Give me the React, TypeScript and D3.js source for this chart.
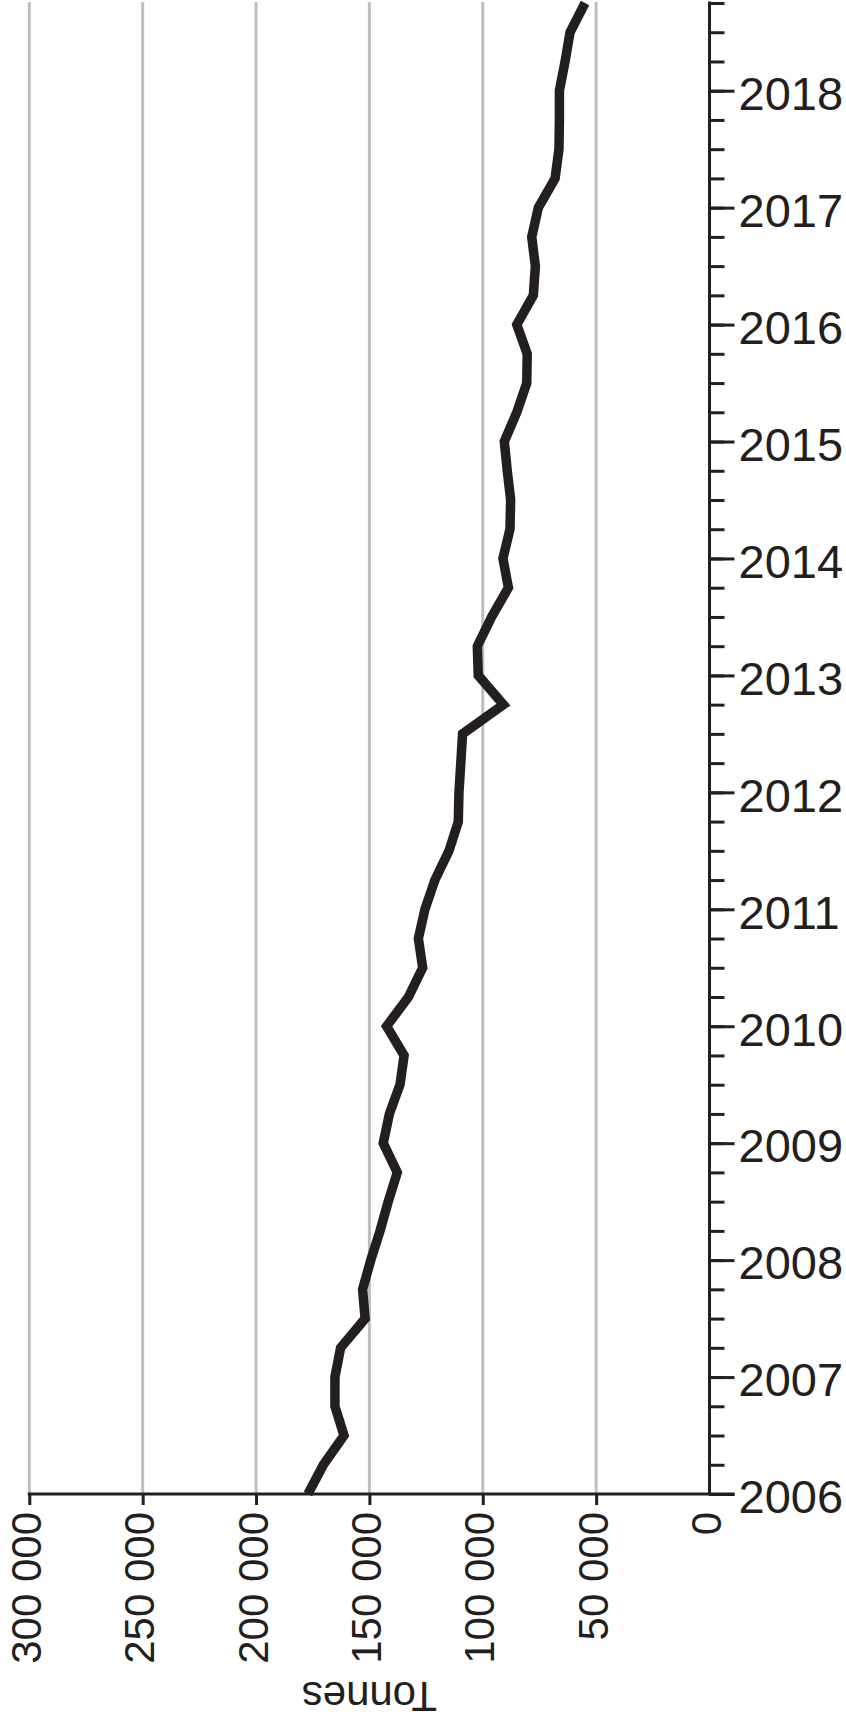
import React, { useEffect, useRef } from 'react';
import * as d3 from 'd3';

// quarterly observations (decimal year) and tonnes
const periods: number[] = [
  2006.0, 2006.25, 2006.5, 2006.75, 2007.0, 2007.25, 2007.5, 2007.75,
  2008.0, 2008.25, 2008.5, 2008.75, 2009.0, 2009.25, 2009.5, 2009.75,
  2010.0, 2010.25, 2010.5, 2010.75, 2011.0, 2011.25, 2011.5, 2011.75,
  2012.0, 2012.25, 2012.5, 2012.75, 2013.0, 2013.25, 2013.5, 2013.75,
  2014.0, 2014.25, 2014.5, 2014.75, 2015.0, 2015.25, 2015.5, 2015.75,
  2016.0, 2016.25, 2016.5, 2016.75, 2017.0, 2017.25, 2017.5, 2017.75,
  2018.0, 2018.25, 2018.5, 2018.75,
];

const tonnes: number[] = [
  177100, 170300, 161200, 165200, 165200, 162700, 151900, 153000,
  149400, 145300, 141700, 137700, 143900, 141200, 136500, 134700,
  142400, 132800, 126500, 128400, 125500, 121100, 114900, 110800,
  110500, 109700, 108900, 90900, 102000, 102400, 96100, 88700,
  91100, 88000, 87700, 89200, 90500, 85000, 80600, 80400,
  85000, 77700, 76800, 78400, 75500, 68100, 66400, 66200,
  66200, 63700, 61500, 54900,
];

const yearTicks: number[] = [2006, 2007, 2008, 2009, 2010, 2011, 2012, 2013, 2014, 2015, 2016, 2017, 2018];
const quarterTicks: number[] = periods;
const valueTicks: number[] = [0, 50000, 100000, 150000, 200000, 250000, 300000];

const FONT = '"Liberation Sans", Arial, Helvetica, sans-serif';
const INK = '#231f20';

const App: React.FC = () => {
  const svgRef = useRef<SVGSVGElement>(null);

  useEffect(() => {
    document.body.style.margin = '0';
    if (!svgRef.current) return;
    const svg = d3.select(svgRef.current);
    svg.selectAll('*').remove();

    // rotated layout: value runs right-to-left along the bottom, time runs upward on the right
    const xScale = d3.scaleLinear().domain([0, 300000]).range([709.5, 29.3]);
    const yScale = d3.scaleLinear().domain([2006, 2018.75]).range([1494, 3]);
    const baseY = yScale(2006);
    const axisX = xScale(0);

    // gridlines
    svg.append('g')
      .selectAll('line')
      .data(valueTicks.filter(v => v > 0))
      .enter()
      .append('line')
      .attr('x1', d => xScale(d))
      .attr('x2', d => xScale(d))
      .attr('y1', baseY)
      .attr('y2', 2)
      .attr('stroke', '#bcbec0')
      .attr('stroke-width', 3);

    // data line
    const line = d3.line<number>()
      .x((_, i) => xScale(tonnes[i]))
      .y(d => yScale(d));

    svg.append('path')
      .datum(periods)
      .attr('fill', 'none')
      .attr('stroke', INK)
      .attr('stroke-width', 9.5)
      .attr('stroke-linejoin', 'miter')
      .attr('d', line);

    // value axis (bottom)
    const xAxis = svg.append('g')
      .attr('transform', `translate(0,${baseY})`)
      .call(d3.axisBottom(xScale).tickValues(valueTicks).tickSize(11).tickSizeOuter(0)
        .tickFormat(d => d3.format(',')(d as number).replace(/,/g, ' ')));
    xAxis.select('.domain').remove();
    xAxis.selectAll('.tick line')
      .attr('stroke', INK)
      .attr('stroke-width', 3)
      .attr('y2', (d: any) => (d === 0 ? 0 : 11));
    xAxis.selectAll('.tick text')
      .attr('x', 0)
      .attr('y', 0)
      .attr('dy', 0)
      .attr('transform', 'translate(11,18) rotate(-90)')
      .attr('text-anchor', 'end')
      .attr('fill', INK)
      .style('font-family', FONT)
      .style('font-size', '42px');
    svg.append('line')
      .attr('x1', xScale(300000) - 1.5)
      .attr('x2', axisX + 25)
      .attr('y1', baseY)
      .attr('y2', baseY)
      .attr('stroke', INK)
      .attr('stroke-width', 3);

    // time axis (right): quarter ticks, then year ticks with labels
    const minor = svg.append('g')
      .attr('transform', `translate(${axisX},0)`)
      .call(d3.axisRight(yScale).tickValues(quarterTicks).tickSize(15).tickSizeOuter(0).tickFormat(() => ''));
    minor.selectAll('.tick line').attr('stroke', INK).attr('stroke-width', 3);
    minor.select('.domain').remove();

    const major = svg.append('g')
      .attr('transform', `translate(${axisX},0)`)
      .call(d3.axisRight(yScale).tickValues(yearTicks).tickSize(25).tickPadding(4).tickSizeOuter(0)
        .tickFormat(d => String(d)));
    major.select('.domain').remove();
    major.selectAll('.tick line').attr('stroke', INK).attr('stroke-width', 3);
    major.selectAll('.tick text')
      .attr('dy', '0.4em')
      .attr('fill', INK)
      .style('font-family', FONT)
      .style('font-size', '47px');

    svg.append('line')
      .attr('x1', axisX)
      .attr('x2', axisX)
      .attr('y1', yScale(2018.75) - 1.5)
      .attr('y2', baseY + 1.5)
      .attr('stroke', INK)
      .attr('stroke-width', 3);

    // axis title, upside down
    svg.append('text')
      .attr('transform', `translate(${(xScale(0) + xScale(300000)) / 2},1682) rotate(180)`)
      .attr('text-anchor', 'middle')
      .attr('fill', INK)
      .style('font-family', FONT)
      .style('font-size', '42px')
      .text('Tonnes');
  }, []);

  return (
    <svg ref={svgRef} width={846} height={1721} style={{ display: 'block', background: '#fff' }} />
  );
};

export default App;
